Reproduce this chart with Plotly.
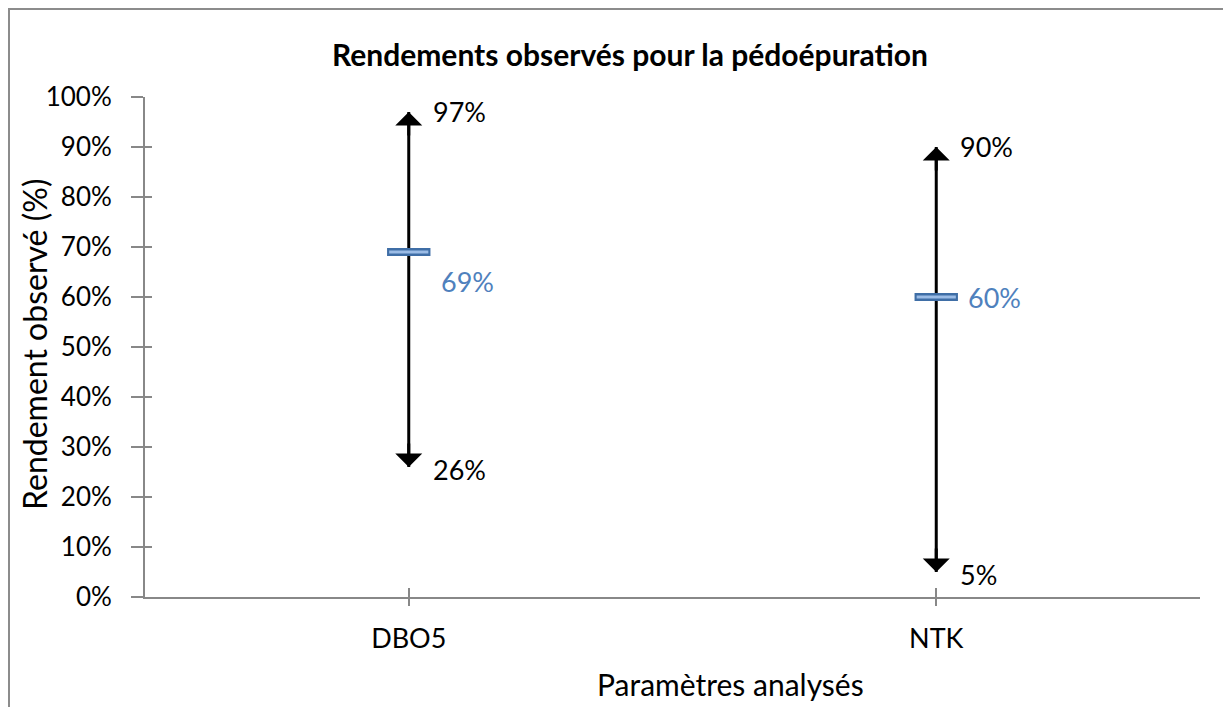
import plotly.graph_objects as go

categories = ["DBO5", "NTK"]
max_vals = [0.97, 0.90]
mean_vals = [0.69, 0.60]
min_vals = [0.26, 0.05]
y_ticks = [i / 10 for i in range(11)]

FONT = "Lato, 'Open Sans', sans-serif"
xs = list(range(len(categories)))

# figure geometry (page has 8px body margin)
W, H = 1223, 699
L, R, T, B = 137, 31, 89, 110
PW, PH = W - L - R, H - T - B

fig = go.Figure()

for i in xs:
    fig.add_trace(go.Scatter(
        x=[i, i], y=[min_vals[i], max_vals[i]], mode="lines",
        line=dict(color="black", width=3), hoverinfo="skip", showlegend=False))

fig.add_trace(go.Scatter(
    x=xs, y=mean_vals, mode="markers",
    marker=dict(symbol="line-ew", size=31, line=dict(width=8, color="#3F6EA6")),
    showlegend=False, hoverinfo="skip"))
fig.add_trace(go.Scatter(
    x=xs, y=mean_vals, mode="markers",
    marker=dict(symbol="line-ew", size=28, line=dict(width=3, color="#9BBCE6")),
    showlegend=False, hoverinfo="skip"))

fig.add_trace(go.Scatter(x=[None], y=[None], xaxis="x2", yaxis="y2",
                         showlegend=False, hoverinfo="skip"))

ann = []
for i in xs:
    ann.append(dict(x=i, y=max_vals[i], xref="x", yref="y", ax=0, ay=25,
                    showarrow=True, arrowhead=1, arrowsize=1.5, arrowwidth=3,
                    arrowcolor="black", text=""))
    ann.append(dict(x=i, y=min_vals[i], xref="x", yref="y", ax=0, ay=-25,
                    showarrow=True, arrowhead=1, arrowsize=1.5, arrowwidth=3,
                    arrowcolor="black", text=""))
    ann.append(dict(x=i, y=max_vals[i], xref="x", yref="y", text=f"{max_vals[i]:.0%}",
                    showarrow=False, xanchor="left", xshift=22, yshift=1,
                    font=dict(family=FONT, size=27, color="black")))
    ann.append(dict(x=i, y=min_vals[i], xref="x", yref="y", text=f"{min_vals[i]:.0%}",
                    showarrow=False, xanchor="left", xshift=22, yshift=-2,
                    font=dict(family=FONT, size=27, color="black")))
mean_shift = [(30, -29), (30, 0)]
for i in xs:
    ann.append(dict(x=i, y=mean_vals[i], xref="x", yref="y", text=f"{mean_vals[i]:.0%}",
                    showarrow=False, xanchor="left", xshift=mean_shift[i][0],
                    yshift=mean_shift[i][1],
                    font=dict(family=FONT, size=27, color="#4F81BD")))

ann.append(dict(x=(26 - L) / PW, y=(PH + T - 337) / PH, xref="paper", yref="paper",
                text="Rendement observé (%)", textangle=-90, showarrow=False,
                xanchor="center", yanchor="middle",
                font=dict(family=FONT, size=32, color="black")))
ann.append(dict(x=(722 - L) / PW, y=(PH + T - 676) / PH, xref="paper", yref="paper",
                text="Paramètres analysés", showarrow=False, xanchor="center",
                yanchor="middle", font=dict(family=FONT, size=30, color="black")))

fig.update_layout(
    width=W, height=H,
    margin=dict(l=L, r=R, t=T, b=B),
    paper_bgcolor="white", plot_bgcolor="white",
    title=dict(text="<b>Rendements observés pour la pédoépuration</b>",
               x=622 / W, xanchor="center", y=1 - 47 / H, yanchor="middle",
               font=dict(family=FONT, size=30, color="black")),
    xaxis=dict(range=[-0.5, 1.5], tickvals=xs, ticktext=categories,
               showgrid=False, zeroline=False, showline=True, linecolor="#888888",
               linewidth=2, ticks="outside", ticklen=7, tickwidth=2, tickcolor="#888888",
               ticklabelstandoff=10,
               tickfont=dict(family=FONT, size=27, color="black")),
    yaxis=dict(range=[0, 1], tickvals=y_ticks, tickformat=".0%",
               showgrid=False, zeroline=False, showline=True, linecolor="#888888",
               linewidth=2, ticks="outside", ticklen=12, tickwidth=2, tickcolor="#888888",
               ticklabelstandoff=14,
               tickfont=dict(family=FONT, size=26, color="black")),
    xaxis2=dict(overlaying="x", anchor="y", side="bottom", range=[-0.5, 1.5],
                tickvals=[-0.5, 0, 1, 1.5], showticklabels=False, showgrid=False,
                zeroline=False, showline=False, ticks="inside", ticklen=9, tickwidth=2,
                tickcolor="#888888"),
    yaxis2=dict(overlaying="y", anchor="x", side="left", range=[0, 1],
                tickvals=y_ticks, showticklabels=False, showgrid=False,
                zeroline=False, showline=False, ticks="inside", ticklen=7, tickwidth=2,
                tickcolor="#888888"),
    annotations=ann,
    shapes=[dict(type="rect", xref="paper", yref="paper",
                 x0=(1 - L) / PW, x1=1.2, y0=-0.5, y1=1 + (T - 1) / PH,
                 line=dict(color="#8C8C8C", width=2), fillcolor="rgba(0,0,0,0)",
                 layer="below")],
    showlegend=False,
)

fig.write_html("out.html")
